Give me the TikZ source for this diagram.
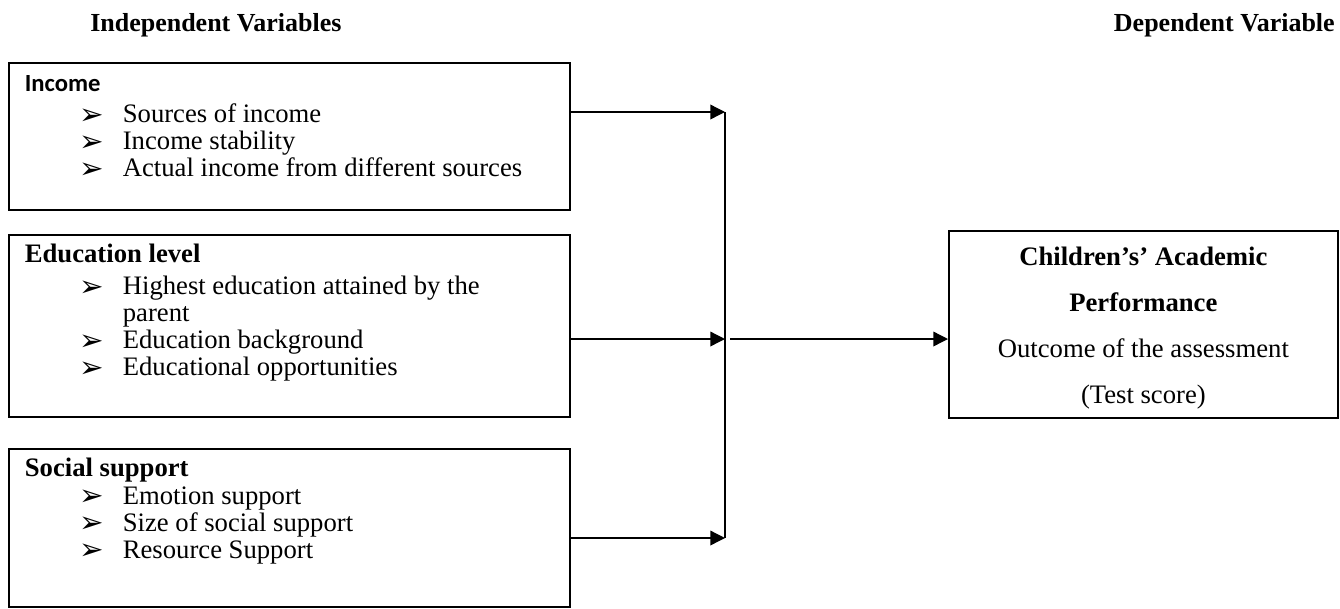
\documentclass[tikz,border=0pt]{standalone}
\usepackage{fontspec}
\setmainfont{Liberation Serif}
\newfontfamily\calibrifont{Carlito}
\newfontfamily\symfont{DejaVu Sans}
\usetikzlibrary{positioning,arrows.meta,calc}

\newcommand{\bul}{\raisebox{-1pt}{\symfont\fontsize{22}{22}\selectfont ➢}}
\newcommand{\factor}[1]{\par\hangindent=73.5pt\hangafter=1\noindent\hspace*{41pt}\makebox[32.5pt][l]{\bul}#1}
\newcommand{\leftbox}[2]{\parbox[b][#1][t]{420.75pt}{\fontsize{20}{20.25}\selectfont\leftskip=12pt\rightskip=0pt plus 1fil\parindent=0pt #2}}

\begin{document}
\begin{tikzpicture}[x=0.75pt, y=-0.75pt,
    factor/.style={draw=black, line width=1.3pt, anchor=north west, inner sep=0pt},
    arrow/.style={-{Triangle[length=11pt, width=11pt]}, line width=1pt},
    heading/.style={font=\fontsize{19.5}{20}\selectfont\bfseries, inner sep=0pt}
]
\useasboundingbox (0,0) rectangle (1340,608);

% Headings
\node[heading, anchor=west] (indep) at (90,25) {Independent Variables};
\node[heading, anchor=east] (dep) at (1335,25) {Dependent Variable};

% Independent variables
\node[factor] (income) at (8,62) {\leftbox{110.25pt}{%
    \rule{0pt}{21.75pt}{\calibrifont\bfseries\fontsize{18.5}{20.25}\selectfont Income}\par\vspace{3pt}
    \factor{Sources of income}
    \factor{Income stability}
    \factor{Actual income from different sources}}};
\node[factor] (educ) at (8,234) {\leftbox{136.5pt}{%
    \rule{0pt}{21pt}\textbf{Education level}\par\vspace{3.75pt}
    \factor{Highest education attained by the\\parent}
    \factor{Education background}
    \factor{Educational opportunities}}};
\node[factor] (social) at (8,448) {\leftbox{118.5pt}{%
    \rule{0pt}{21pt}\textbf{Social support}\par\vspace{0.5pt}
    \factor{Emotion support}
    \factor{Size of social support}
    \factor{Resource Support}}};

% Dependent variable
\node[factor] (perf) at (948,230) {\parbox[b][140.25pt][t]{291.75pt}{\centering\fontsize{20}{34.5}\selectfont
    \rule{0pt}{26.25pt}\textbf{Children’s’ Academic}\\
    \textbf{Performance}\\
    Outcome of the assessment\\
    (Test score)}};

% Junction points
\coordinate (j1) at (725,112);
\coordinate (j2) at (725,339);
\coordinate (j3) at (725,538);
\coordinate (jout) at (730,339);

% Arrows
\foreach \b/\j in {income/j1, educ/j2, social/j3} {
    \draw[arrow] (\b.east |- \j) -- (\j);
}
\draw[line width=1pt] (j1) -- (j3);
\draw[arrow] (jout) -- (perf.west |- jout);

\end{tikzpicture}
\end{document}
